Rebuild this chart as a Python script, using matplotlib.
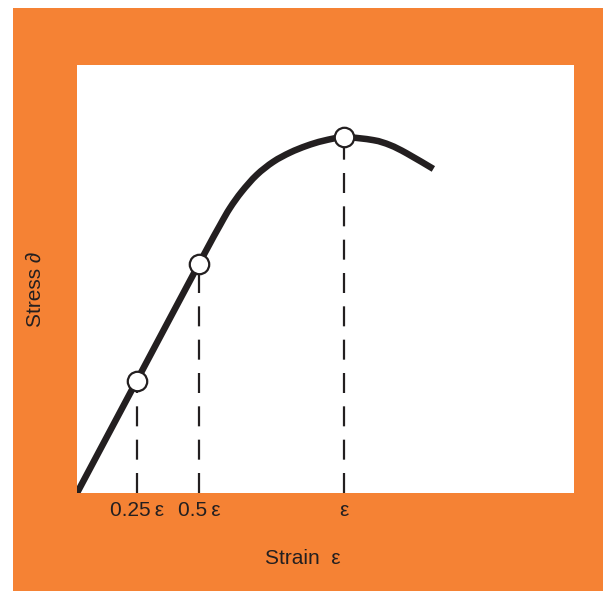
import numpy as np
import matplotlib.pyplot as plt
from matplotlib.patches import Rectangle, PathPatch
from matplotlib.path import Path

# strain (in units of eps) and stress (in units of peak stress)
strain = [0, 0.223, 0.456, 0.535, 0.572, 0.616, 0.672, 0.734, 0.797, 0.859, 0.921, 1.0,
          1.108, 1.171, 1.233, 1.333]
stress = [0, 0.315, 0.644, 0.753, 0.801, 0.847, 0.894, 0.931, 0.957, 0.976, 0.990, 1.0,
          0.992, 0.978, 0.955, 0.911]

# marked points
mark_x = [0.223, 0.456, 1.0]
mark_y = [0.315, 0.644, 1.0]
tick_labels = ['0.25\u2009ε', '0.5\u2009ε', 'ε']

orange = '#F58234'
dark = '#231F20'
plt.rcParams['font.family'] = ['Liberation Sans', 'DejaVu Sans']


def smooth_path(xs, ys):
    # catmull-rom through the read points, as cubic bezier segments
    p = np.column_stack([xs, ys])
    p = np.vstack([p[0], p, p[-1]])
    verts = [p[1]]
    codes = [Path.MOVETO]
    for i in range(1, len(p) - 2):
        c1 = p[i] + (p[i + 1] - p[i - 1]) / 6
        c2 = p[i + 1] - (p[i + 2] - p[i]) / 6
        verts += [c1, c2, p[i + 1]]
        codes += [Path.CURVE4] * 3
    return Path(verts, codes)


fig = plt.figure(figsize=(6.03, 5.94), dpi=100)
fig.patch.set_facecolor('white')
fig.add_artist(Rectangle((0.0216, 0.005), 0.98, 0.982, transform=fig.transFigure,
                         facecolor=orange, edgecolor='none', zorder=0))

ax = fig.add_axes([0.1277, 0.170, 0.8242, 0.7205])
ax.set_facecolor('white')
for s in ax.spines.values():
    s.set_visible(False)

ax.add_patch(PathPatch(smooth_path(strain, stress), facecolor='none', edgecolor=dark,
                       lw=4.7, capstyle='butt', joinstyle='round', zorder=3))
for x, y in zip(mark_x, mark_y):
    ax.plot([x, x], [0, y], color=dark, lw=1.6, dashes=(9, 6), zorder=2)
ax.plot(mark_x, mark_y, 'o', ms=14, mfc='white', mec=dark, mew=1.6, zorder=4)

ax.set_xlim(0, 1.859)
ax.set_ylim(0, 1.203)
ax.set_xticks(mark_x)
ax.set_xticklabels(tick_labels, fontsize=15, color=dark)
ax.tick_params(axis='x', length=0, pad=6)
ax.set_yticks([])

fig.text(0.5025, 0.059, 'Strain  ε', fontsize=15, color=dark, ha='center', va='center')
fig.text(0.058, 0.512, 'Stress ∂', fontsize=15, color=dark, ha='center', va='center', rotation=90)

fig.savefig('out.png', dpi=100)
